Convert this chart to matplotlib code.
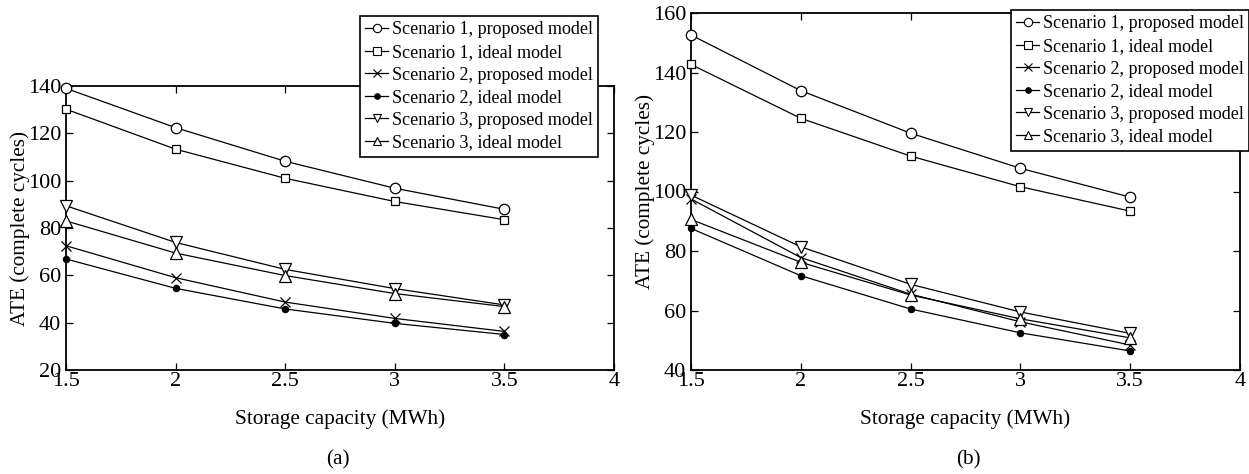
import matplotlib
matplotlib.use("Agg")
import matplotlib.pyplot as plt
from matplotlib.lines import Line2D

plt.rcParams['font.family'] = ['Liberation Serif', 'DejaVu Serif']
plt.rcParams['mathtext.fontset'] = 'stix'

capacity = [1.5, 2.0, 2.5, 3.0, 3.5]

labels = ["Scenario 1, proposed model", "Scenario 1, ideal model",
          "Scenario 2, proposed model", "Scenario 2, ideal model",
          "Scenario 3, proposed model", "Scenario 3, ideal model"]

# panel (a)
a_s1_prop = [139.0, 122.4, 108.2, 96.8, 87.9]
a_s1_ideal = [130.2, 113.3, 101.0, 91.2, 83.5]
a_s2_prop = [72.5, 59.0, 48.7, 41.8, 36.3]
a_s2_ideal = [66.9, 54.5, 45.8, 39.7, 35.0]
a_s3_prop = [89.4, 73.9, 62.5, 54.4, 47.5]
a_s3_ideal = [83.0, 69.4, 59.9, 52.3, 46.8]

# panel (b)
b_s1_prop = [152.6, 133.9, 119.6, 107.8, 98.1]
b_s1_ideal = [142.7, 124.6, 111.9, 101.6, 93.4]
b_s2_prop = [97.5, 77.8, 65.5, 56.2, 48.4]
b_s2_ideal = [87.6, 71.7, 60.5, 52.5, 46.4]
b_s3_prop = [98.8, 81.4, 68.8, 59.5, 52.3]
b_s3_ideal = [90.6, 76.2, 65.2, 57.2, 50.8]

xticks = [1.5, 2, 2.5, 3, 3.5, 4]
xticklabels = ["1.5", "2", "2.5", "3", "3.5", "4"]
a_yticks = [20, 40, 60, 80, 100, 120, 140]
b_yticks = [40, 60, 80, 100, 120, 140, 160]

markers = ['o', 's', 'x', 'o', 'v', '^']
msizes = [7.5, 6, 7, 4.5, 8.5, 8.5]
fills = ['white', 'white', 'black', 'black', 'white', 'white']

fig = plt.figure(figsize=(12.49, 4.74), dpi=100)
axA = fig.add_axes([66/1249, 1-370/474, 548/1249, 284/474])
axB = fig.add_axes([691/1249, 1-370/474, 549/1249, 357/474])

TICKFS = 16
LABFS = 15.3

def draw(ax, series, ylim, yticks):
    for ys, m, ms, fc in zip(series, markers, msizes, fills):
        ax.plot(capacity, ys, color='black', lw=0.9, marker=m, ms=ms,
                mfc=fc, mec='black', mew=0.9, clip_on=False, zorder=3)
    ax.set_xlim(1.5, 4)
    ax.set_ylim(*ylim)
    ax.set_xticks(xticks)
    ax.set_xticklabels(xticklabels)
    ax.set_yticks(yticks)
    ax.tick_params(direction='in', top=True, right=True, length=5, width=0.9,
                   labelsize=TICKFS)
    ax.tick_params(axis='x', pad=1.5)
    ax.tick_params(axis='y', pad=3.5)
    for sp in ax.spines.values():
        sp.set_linewidth(1.3)
    ax.set_xlabel("Storage capacity (MWh)", fontsize=LABFS, labelpad=13)
    ax.set_ylabel("ATE (complete cycles)", fontsize=LABFS, labelpad=-1.5)

draw(axA, [a_s1_prop, a_s1_ideal, a_s2_prop, a_s2_ideal, a_s3_prop, a_s3_ideal],
     (20, 140), a_yticks)
draw(axB, [b_s1_prop, b_s1_ideal, b_s2_prop, b_s2_ideal, b_s3_prop, b_s3_ideal],
     (40, 160), b_yticks)

fig.text(338/1249, 1-460/474, "(a)", ha='center', va='center', fontsize=LABFS)
fig.text(968/1249, 1-460/474, "(b)", ha='center', va='center', fontsize=LABFS)

handles = []
for m, fc in zip(markers, fills):
    handles.append(Line2D([], [], color='black', lw=0.9, marker=m,
                          ms=4 if fc == 'black' and m == 'o' else 6,
                          mfc=fc, mec='black', mew=0.8))

legkw = dict(loc='upper left', fontsize=13, frameon=True, fancybox=False,
             edgecolor='black', framealpha=1, handlelength=1.25, handletextpad=0.2,
             borderpad=0.3, labelspacing=0.31, borderaxespad=0)
l1 = fig.legend(handles, labels, bbox_to_anchor=(360/1249, 1-16/474), **legkw)
l2 = fig.legend(handles, labels, bbox_to_anchor=(1011/1249, 1-10/474), **legkw)
for l in (l1, l2):
    l.get_frame().set_linewidth(1.2)
    l.set_zorder(10)

fig.savefig("out.png", dpi=100)
